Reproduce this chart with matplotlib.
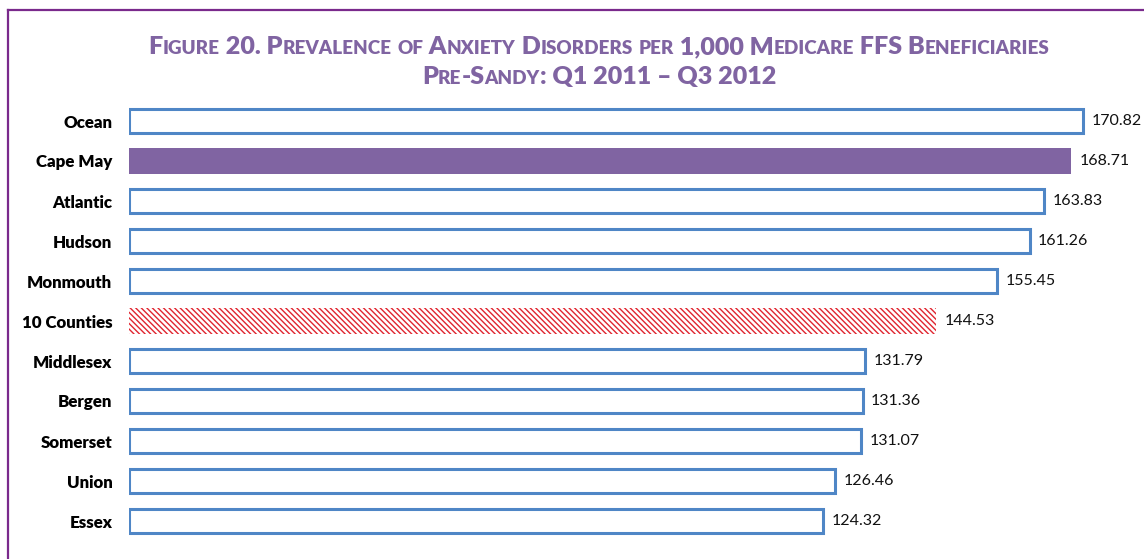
import matplotlib.pyplot as plt
from matplotlib.lines import Line2D

plt.rcParams['font.family'] = ['Lato', 'DejaVu Sans']
plt.rcParams['hatch.linewidth'] = 1.0

counties = ['Ocean', 'Cape May', 'Atlantic', 'Hudson', 'Monmouth', '10 Counties',
            'Middlesex', 'Bergen', 'Somerset', 'Union', 'Essex']
values = [170.82, 168.71, 163.83, 161.26, 155.45, 144.53,
          131.79, 131.36, 131.07, 126.46, 124.32]
title_lines = ['Figure 20. Prevalence of Anxiety Disorders per 1,000 Medicare FFS Beneficiaries',
               'Pre-Sandy: Q1 2011 \u2013 Q3 2012']

W, H = 1144, 559
fig = plt.figure(figsize=(W / 100, H / 100), dpi=100)
ax = fig.add_axes([129 / W, 1 - 541 / H, (W - 129) / W, 440 / H])

blue = '#4F86C6'
purple = '#8064A2'
bs = chr(92)

ypos = list(range(len(counties)))
for y, name, v in zip(ypos, counties, values):
    if name == 'Cape May':
        ax.barh(y, v, height=0.66, color=purple, edgecolor='none')
    elif name == '10 Counties':
        ax.barh(y, v, height=0.66, color='white', edgecolor='#E0252F',
                hatch=bs * 6, linewidth=0)
    else:
        ax.barh(y, v, height=0.62, color='white', edgecolor=blue, linewidth=2.2)
    ax.annotate(f'{v:.2f}', (v, y), xytext=(6, 0), textcoords='offset points',
                va='center', ha='left', fontsize=11.5, color='#111111')

ax.set_xlim(0, (W - 129) / 5.585)
ax.set_ylim(len(counties) - 0.5, -0.5)
ax.set_yticks(ypos)
ax.set_yticklabels(counties, fontweight='heavy', fontsize=12.2)
ax.tick_params(axis='y', length=0, pad=12)
ax.set_xticks([])
for s in ax.spines.values():
    s.set_visible(False)

# frame
fig.add_artist(Line2D([7.5 / W, 7.5 / W], [0, 1 - 10 / H], color='#7A2A8C', lw=1.6))
fig.add_artist(Line2D([7.5 / W, 1], [1 - 10 / H, 1 - 10 / H], color='#7A2A8C', lw=1.6))


# small caps title
def pieces(s):
    out = []
    for ch in s:
        small = ch.islower()
        c = ch.upper() if small else ch
        if out and out[-1][1] == small:
            out[-1][0] += c
        else:
            out.append([c, small])
    return out


renderer = fig.canvas.get_renderer()
big, sm = 18.1, 13.6
cx = 599
for line, ybase in zip(title_lines, [54, 84]):
    texts = []
    for txt, small in pieces(line):
        t = fig.text(0, 1 - ybase / H, txt, fontsize=sm if small else big,
                     fontweight='heavy', color=purple, va='baseline', ha='left')
        texts.append(t)
    widths = [t.get_window_extent(renderer).width for t in texts]
    x = cx - sum(widths) / 2
    for t, w in zip(texts, widths):
        t.set_x(x / W)
        x += w

fig.savefig('out.png', dpi=100)
